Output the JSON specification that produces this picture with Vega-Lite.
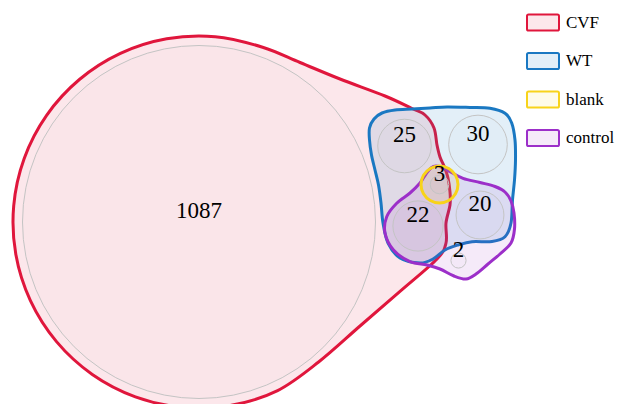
{
  "$schema": "https://vega.github.io/schema/vega-lite/v6.json",
  "width": 618,
  "height": 404,
  "autosize": {"type": "none"},
  "padding": 0,
  "config": {"view": {"stroke": null}},
  "datasets": {
    "hulls": [
      {"set": "CVF", "i": 0, "x": 262.6, "y": 47.2},
      {"set": "CVF", "i": 1, "x": 215.2, "y": 36.7},
      {"set": "CVF", "i": 2, "x": 166.7, "y": 38.8},
      {"set": "CVF", "i": 3, "x": 120.4, "y": 53.4},
      {"set": "CVF", "i": 4, "x": 79.4, "y": 79.5},
      {"set": "CVF", "i": 5, "x": 46.6, "y": 115.3},
      {"set": "CVF", "i": 6, "x": 24.2, "y": 158.4},
      {"set": "CVF", "i": 7, "x": 13.7, "y": 205.8},
      {"set": "CVF", "i": 8, "x": 15.8, "y": 254.3},
      {"set": "CVF", "i": 9, "x": 30.4, "y": 300.6},
      {"set": "CVF", "i": 10, "x": 56.5, "y": 341.6},
      {"set": "CVF", "i": 11, "x": 92.3, "y": 374.4},
      {"set": "CVF", "i": 12, "x": 135.4, "y": 396.8},
      {"set": "CVF", "i": 13, "x": 182.8, "y": 407.3},
      {"set": "CVF", "i": 14, "x": 231.3, "y": 405.2},
      {"set": "CVF", "i": 15, "x": 277.6, "y": 390.6},
      {"set": "CVF", "i": 16, "x": 318.6, "y": 362},
      {"set": "CVF", "i": 17, "x": 360, "y": 326},
      {"set": "CVF", "i": 18, "x": 400, "y": 291.4},
      {"set": "CVF", "i": 19, "x": 437, "y": 259},
      {"set": "CVF", "i": 20, "x": 446, "y": 243},
      {"set": "CVF", "i": 21, "x": 446, "y": 223},
      {"set": "CVF", "i": 22, "x": 450, "y": 205},
      {"set": "CVF", "i": 23, "x": 450, "y": 192},
      {"set": "CVF", "i": 24, "x": 448, "y": 178},
      {"set": "CVF", "i": 25, "x": 444, "y": 166},
      {"set": "CVF", "i": 26, "x": 440, "y": 157},
      {"set": "CVF", "i": 27, "x": 437, "y": 145},
      {"set": "CVF", "i": 28, "x": 434, "y": 128},
      {"set": "CVF", "i": 29, "x": 425, "y": 115},
      {"set": "CVF", "i": 30, "x": 412, "y": 108.5},
      {"set": "CVF", "i": 31, "x": 385, "y": 96},
      {"set": "CVF", "i": 32, "x": 340, "y": 79},
      {"set": "CVF", "i": 33, "x": 300, "y": 62.5},

      {"set": "WT", "i": 0, "x": 382, "y": 113},
      {"set": "WT", "i": 1, "x": 395, "y": 110},
      {"set": "WT", "i": 2, "x": 412, "y": 109},
      {"set": "WT", "i": 3, "x": 430, "y": 108},
      {"set": "WT", "i": 4, "x": 447, "y": 107},
      {"set": "WT", "i": 5, "x": 470, "y": 107.5},
      {"set": "WT", "i": 6, "x": 490, "y": 108.3},
      {"set": "WT", "i": 7, "x": 505, "y": 113.3},
      {"set": "WT", "i": 8, "x": 511.7, "y": 123},
      {"set": "WT", "i": 9, "x": 515, "y": 140},
      {"set": "WT", "i": 10, "x": 515.5, "y": 160},
      {"set": "WT", "i": 11, "x": 514.5, "y": 180},
      {"set": "WT", "i": 12, "x": 512.5, "y": 200},
      {"set": "WT", "i": 13, "x": 511, "y": 223},
      {"set": "WT", "i": 14, "x": 505, "y": 236.7},
      {"set": "WT", "i": 15, "x": 492, "y": 241.5},
      {"set": "WT", "i": 16, "x": 472, "y": 241.7},
      {"set": "WT", "i": 17, "x": 458, "y": 245},
      {"set": "WT", "i": 18, "x": 445, "y": 250},
      {"set": "WT", "i": 19, "x": 433, "y": 259},
      {"set": "WT", "i": 20, "x": 420, "y": 263},
      {"set": "WT", "i": 21, "x": 400, "y": 258},
      {"set": "WT", "i": 22, "x": 388, "y": 243},
      {"set": "WT", "i": 23, "x": 383, "y": 223},
      {"set": "WT", "i": 24, "x": 381, "y": 203},
      {"set": "WT", "i": 25, "x": 378.5, "y": 185},
      {"set": "WT", "i": 26, "x": 375, "y": 170},
      {"set": "WT", "i": 27, "x": 371.5, "y": 155},
      {"set": "WT", "i": 28, "x": 369.5, "y": 140},
      {"set": "WT", "i": 29, "x": 369.5, "y": 128},
      {"set": "WT", "i": 30, "x": 374, "y": 119},

      {"set": "control", "i": 0, "x": 436, "y": 166},
      {"set": "control", "i": 1, "x": 444, "y": 168},
      {"set": "control", "i": 2, "x": 450, "y": 171.7},
      {"set": "control", "i": 3, "x": 463, "y": 178.3},
      {"set": "control", "i": 4, "x": 480, "y": 182.5},
      {"set": "control", "i": 5, "x": 495, "y": 186.5},
      {"set": "control", "i": 6, "x": 505, "y": 192},
      {"set": "control", "i": 7, "x": 511, "y": 201},
      {"set": "control", "i": 8, "x": 514, "y": 213},
      {"set": "control", "i": 9, "x": 514.5, "y": 229},
      {"set": "control", "i": 10, "x": 511, "y": 243},
      {"set": "control", "i": 11, "x": 500, "y": 254},
      {"set": "control", "i": 12, "x": 488, "y": 264},
      {"set": "control", "i": 13, "x": 476, "y": 274},
      {"set": "control", "i": 14, "x": 466, "y": 279},
      {"set": "control", "i": 15, "x": 454, "y": 276},
      {"set": "control", "i": 16, "x": 440, "y": 269},
      {"set": "control", "i": 17, "x": 427, "y": 265},
      {"set": "control", "i": 18, "x": 410, "y": 261.7},
      {"set": "control", "i": 19, "x": 393.5, "y": 250},
      {"set": "control", "i": 20, "x": 385, "y": 233},
      {"set": "control", "i": 21, "x": 386.7, "y": 216.7},
      {"set": "control", "i": 22, "x": 396.7, "y": 203.3},
      {"set": "control", "i": 23, "x": 410, "y": 193},
      {"set": "control", "i": 24, "x": 420, "y": 183},
      {"set": "control", "i": 25, "x": 426, "y": 174},
      {"set": "control", "i": 26, "x": 431, "y": 168},

      {"set": "blank", "i": 0, "x": 458, "y": 184.5},
      {"set": "blank", "i": 1, "x": 455.5, "y": 193.75},
      {"set": "blank", "i": 2, "x": 448.75, "y": 200.5},
      {"set": "blank", "i": 3, "x": 439.5, "y": 203},
      {"set": "blank", "i": 4, "x": 430.25, "y": 200.5},
      {"set": "blank", "i": 5, "x": 423.5, "y": 193.75},
      {"set": "blank", "i": 6, "x": 421, "y": 184.5},
      {"set": "blank", "i": 7, "x": 423.5, "y": 175.25},
      {"set": "blank", "i": 8, "x": 430.25, "y": 168.5},
      {"set": "blank", "i": 9, "x": 439.5, "y": 166},
      {"set": "blank", "i": 10, "x": 448.75, "y": 168.5},
      {"set": "blank", "i": 11, "x": 455.5, "y": 175.25}
    ],
    "circles": [
      {"count": 1087, "x": 199, "y": 222},
      {"count": 25, "x": 404.5, "y": 146},
      {"count": 30, "x": 478, "y": 144.5},
      {"count": 3, "x": 439.5, "y": 184.5},
      {"count": 22, "x": 418, "y": 226},
      {"count": 20, "x": 480, "y": 215},
      {"count": 2, "x": 458.5, "y": 260.5}
    ]
  },
  "layer": [
    {
      "data": {"name": "hulls"},
      "mark": {"type": "line", "interpolate": "cardinal-closed", "strokeWidth": 3, "strokeJoin": "round"},
      "encoding": {
        "x": {"field": "x", "type": "quantitative", "axis": null, "scale": {"domain": [0, 618], "nice": false, "zero": false}},
        "y": {"field": "y", "type": "quantitative", "axis": null, "scale": {"domain": [0, 404], "nice": false, "zero": false, "reverse": true}},
        "order": {"field": "i", "type": "quantitative"},
        "stroke": {
          "field": "set", "type": "nominal",
          "scale": {"domain": ["CVF", "WT", "blank", "control"], "range": ["#e0163c", "#1a78c2", "#f8d31a", "#9c2fc9"]},
          "legend": {"title": null, "orient": "none", "legendX": 526, "legendY": 5.5, "padding": 0, "symbolType": "M-0.9,-0.5H0.9Q1,-0.5 1,-0.4V0.4Q1,0.5 0.9,0.5H-0.9Q-1,0.5 -1,0.4V-0.4Q-1,-0.5 -0.9,-0.5Z", "symbolSize": 1024, "symbolStrokeWidth": 2, "labelFont": "Liberation Serif", "labelFontSize": 17, "labelColor": "#000000", "labelOffset": 6, "rowPadding": 9.5}
        },
        "fill": {
          "field": "set", "type": "nominal",
          "scale": {"domain": ["CVF", "WT", "blank", "control"], "range": ["rgba(224,22,60,0.1)", "rgba(26,120,194,0.12)", "rgba(248,211,26,0.1)", "rgba(156,47,201,0.1)"]},
          "legend": {"title": null, "orient": "none", "legendX": 526, "legendY": 5.5, "padding": 0, "symbolType": "M-0.9,-0.5H0.9Q1,-0.5 1,-0.4V0.4Q1,0.5 0.9,0.5H-0.9Q-1,0.5 -1,0.4V-0.4Q-1,-0.5 -0.9,-0.5Z", "symbolSize": 1024, "symbolStrokeWidth": 2, "labelFont": "Liberation Serif", "labelFontSize": 17, "labelColor": "#000000", "labelOffset": 6, "rowPadding": 9.5}
        }
      }
    },
    {
      "data": {"name": "circles"},
      "mark": {"type": "point", "shape": "circle", "fill": "#808080", "fillOpacity": 0.015, "stroke": "#c4c4c4", "strokeWidth": 1, "opacity": 1},
      "encoding": {
        "x": {"field": "x", "type": "quantitative"},
        "y": {"field": "y", "type": "quantitative"},
        "size": {"field": "count", "type": "quantitative", "scale": {"type": "linear", "domain": [0, 1087], "range": [0, 124609], "zero": true}, "legend": null}
      }
    },
    {
      "data": {"name": "circles"},
      "mark": {"type": "text", "font": "Liberation Serif", "fontSize": 23, "color": "#000000", "align": "center", "baseline": "alphabetic", "dy": -4},
      "encoding": {
        "x": {"field": "x", "type": "quantitative"},
        "y": {"field": "y", "type": "quantitative"},
        "text": {"field": "count", "type": "quantitative"}
      }
    }
  ]
}
